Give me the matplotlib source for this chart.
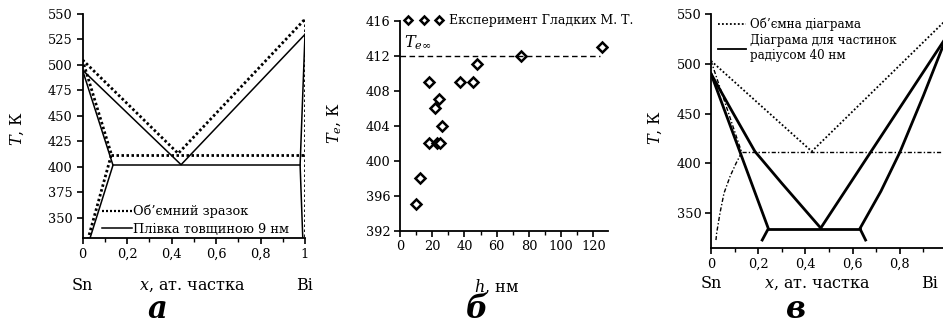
import matplotlib
matplotlib.use("Agg")
import matplotlib.pyplot as plt
from matplotlib.ticker import MultipleLocator, FuncFormatter
from matplotlib.lines import Line2D

plt.rcParams['font.family'] = ['DejaVu Serif']
plt.rcParams['mathtext.fontset'] = 'dejavuserif'

# ---------------- data: panel a (Sn-Bi, bulk vs 9 nm film) ----------------
a_bulk_liq_x = [0.0, 0.43, 1.0]
a_bulk_liq_T = [505, 413, 545]
a_bulk_sol_x = [0.0, 0.13, 0.026]
a_bulk_sol_T = [505, 412, 330]
a_bulk_eut_x = [0.13, 1.0]
a_bulk_eut_T = [412, 412]
a_bulk_bi_x = [0.998, 0.998]
a_bulk_bi_T = [545, 330]

a_film_liq_x = [0.0, 0.443, 1.0]
a_film_liq_T = [495, 402, 530]
a_film_sol_x = [0.0, 0.137, 0.034]
a_film_sol_T = [495, 401.5, 330]
a_film_eut_x = [0.137, 0.978]
a_film_eut_T = [401.5, 401.5]
a_film_bi_x = [1.0, 0.978, 0.99]
a_film_bi_T = [530, 401.5, 330]

# ---------------- data: panel b (eutectic T vs film thickness) ----------------
b_h = [10, 12.5, 18, 18, 22, 23, 24, 25, 26, 37.5, 45, 48, 75, 125]
b_Te = [395, 398, 409, 402, 406, 402, 407, 402, 404, 409, 409, 411, 412, 413]
b_Te_inf = 412

# ---------------- data: panel c (bulk vs 40 nm particles) ----------------
c_bulk_liq_x = [0.0, 0.427, 1.0]
c_bulk_liq_T = [503, 412, 545]
c_bulk_sol_x = [0.0, 0.13, 0.106, 0.081, 0.055, 0.038, 0.024, 0.021]
c_bulk_sol_T = [503, 411, 400, 387, 370, 350, 330, 323]
c_bulk_eut_x = [0.13, 1.0]
c_bulk_eut_T = [411, 411]

c_part_liqL_x = [0.0, 0.09, 0.186, 0.30, 0.465]
c_part_liqL_T = [490, 452, 412, 380, 335]
c_part_liqR_x = [0.465, 1.0]
c_part_liqR_T = [335, 528]
c_part_solL_x = [0.0, 0.243, 0.217]
c_part_solL_T = [490, 334.5, 323]
c_part_eut_x = [0.243, 0.631]
c_part_eut_T = [334.5, 334.5]
c_part_solR_x = [0.655, 0.631, 0.72, 0.80, 0.90, 1.0]
c_part_solR_T = [323, 334.5, 372, 411, 468, 528]

W, H = 943, 325
fig = plt.figure(figsize=(W / 100, H / 100), dpi=100)


def px_axes(l, r, t, b):
    return fig.add_axes([l / W, 1 - b / H, (r - l) / W, (b - t) / H])


def ftext(x, y, s, **kw):
    fig.text(x / W, 1 - y / H, s, ha='center', va='center', **kw)


comma = FuncFormatter(lambda v, p: ('%g' % v).replace('.', ','))
TICK_FS = 9.3
LAB_FS = 11.5
PANEL_FS = 22


def style(ax):
    for s in ('top', 'right'):
        ax.spines[s].set_visible(False)
    for s in ('left', 'bottom'):
        ax.spines[s].set_linewidth(1.3)
    ax.tick_params(which='major', direction='out', length=4, width=1.2,
                   labelsize=TICK_FS, pad=3)
    ax.tick_params(which='minor', direction='out', length=3, width=1.0)


dot_a = dict(color='black', lw=2.0, linestyle=(0, (0.9, 0.9)))
sol_a = dict(color='black', lw=1.1, linestyle='-')

# ---------------- panel a ----------------
axa = px_axes(82.5, 305, 14, 238)
axa.plot(a_bulk_liq_x, a_bulk_liq_T, **dot_a)
axa.plot(a_bulk_sol_x, a_bulk_sol_T, **dot_a)
axa.plot(a_bulk_eut_x, a_bulk_eut_T, **dot_a)
axa.plot(a_bulk_bi_x, a_bulk_bi_T, **dot_a)
axa.plot(a_film_liq_x, a_film_liq_T, **sol_a)
axa.plot(a_film_sol_x, a_film_sol_T, **sol_a)
axa.plot(a_film_eut_x, a_film_eut_T, **sol_a)
axa.plot(a_film_bi_x, a_film_bi_T, **sol_a)
axa.set_xlim(0, 1)
axa.set_ylim(330, 550)
axa.xaxis.set_major_locator(MultipleLocator(0.2))
axa.xaxis.set_minor_locator(MultipleLocator(0.1))
axa.yaxis.set_major_locator(MultipleLocator(25))
axa.xaxis.set_major_formatter(comma)
style(axa)
ha = [Line2D([], [], color='black', lw=1.6, linestyle=(0, (0.9, 0.9))),
      Line2D([], [], color='black', lw=1.1)]
axa.legend(ha, ['Об’ємний зразок', 'Плівка товщиною 9 нм'],
           loc='lower left', bbox_to_anchor=(0.0876, 0.01), frameon=False,
           fontsize=9.25, handlelength=2.33, handletextpad=0.08,
           borderpad=0, borderaxespad=0, labelspacing=0.35)
ftext(17, 128, '$T$, К', rotation=90, fontsize=LAB_FS)
ftext(82.5, 285, 'Sn', fontsize=LAB_FS)
ftext(305, 285, 'Bi', fontsize=LAB_FS)
ftext(192, 285, '$x$, ат. частка', fontsize=LAB_FS)
ftext(157, 309, 'а', fontsize=PANEL_FS, fontweight='bold', style='italic')

# ---------------- panel b ----------------
axb = px_axes(400, 608, 20.7, 230.7)
axb.plot(b_h, b_Te, linestyle='none', marker='D', markersize=5.2,
         markerfacecolor='white', markeredgecolor='black', markeredgewidth=1.8,
         label='Експеримент Гладких М. Т.')
axb.hlines(b_Te_inf, 0, 124, colors='black', lw=1.0, linestyles=(0, (4, 2.5)))
axb.text(2.2, 412.96, r'$T_{e\infty}$', fontsize=11.5, va='baseline', ha='left')
axb.set_xlim(0, 129)
axb.set_ylim(392, 416)
axb.xaxis.set_major_locator(MultipleLocator(20))
axb.xaxis.set_minor_locator(MultipleLocator(10))
axb.yaxis.set_major_locator(MultipleLocator(4))
style(axb)
axb.legend(loc='center left', bbox_to_anchor=(0.021, 1.0), frameon=False,
           fontsize=9, numpoints=3, handlelength=3.1, handletextpad=0.45,
           borderpad=0, borderaxespad=0, markerscale=0.85)
ftext(335, 123, '$T_e$, К', rotation=90, fontsize=LAB_FS)
ftext(497, 287, '$h$, нм', fontsize=LAB_FS)
ftext(477, 309, 'б', fontsize=PANEL_FS, fontweight='bold', style='italic')

# ---------------- panel c ----------------
axc = px_axes(711, 947, 14, 248)
dot_c = dict(color='black', lw=1.3, linestyle=(0, (1, 1.2)))
dd_c = dict(color='black', lw=1.0, linestyle=(0, (3, 1.5, 1, 1.5)))
sol_c = dict(color='black', lw=2.0, linestyle='-')
axc.plot(c_bulk_liq_x, c_bulk_liq_T, **dot_c)
axc.plot(c_bulk_sol_x, c_bulk_sol_T, **dd_c)
axc.plot(c_bulk_eut_x, c_bulk_eut_T, **dd_c)
axc.plot(c_part_liqL_x, c_part_liqL_T, **sol_c)
axc.plot(c_part_liqR_x, c_part_liqR_T, **sol_c)
axc.plot(c_part_solL_x, c_part_solL_T, **sol_c)
axc.plot(c_part_eut_x, c_part_eut_T, **sol_c)
axc.plot(c_part_solR_x, c_part_solR_T, **sol_c)
axc.set_xlim(0, 1)
axc.set_ylim(315, 550)
axc.xaxis.set_major_locator(MultipleLocator(0.2))
axc.xaxis.set_minor_locator(MultipleLocator(0.1))
axc.yaxis.set_major_locator(MultipleLocator(50))
axc.xaxis.set_major_formatter(comma)
style(axc)
hc = [Line2D([], [], color='black', lw=1.3, linestyle=(0, (1, 1.2))),
      Line2D([], [], color='black', lw=1.3)]
axc.legend(hc, ['Об’ємна діаграма', 'Діаграма для частинок\nрадіусом 40 нм'],
           loc='upper left', bbox_to_anchor=(0.03, 0.985), frameon=False,
           fontsize=8.6, handlelength=2.3, handletextpad=0.4,
           borderpad=0, borderaxespad=0, labelspacing=0.25)
ftext(655, 127, '$T$, К', rotation=90, fontsize=LAB_FS)
ftext(711, 284, 'Sn', fontsize=LAB_FS)
ftext(930, 284, 'Bi', fontsize=LAB_FS)
ftext(817, 284, '$x$, ат. частка', fontsize=LAB_FS)
ftext(796, 310, 'в', fontsize=PANEL_FS, fontweight='bold', style='italic')

fig.savefig('out.png', dpi=100)
